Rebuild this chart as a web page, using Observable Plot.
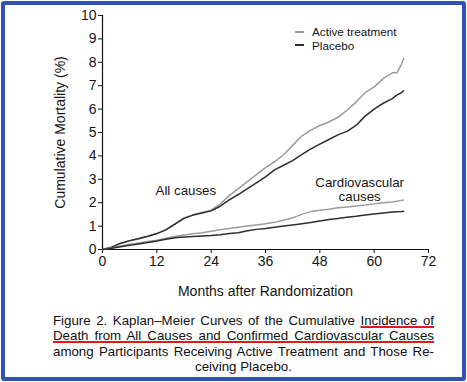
<!DOCTYPE html>
<html><head><meta charset="utf-8">
<script src="https://cdn.jsdelivr.net/npm/d3@7"></script>
<script src="https://cdn.jsdelivr.net/npm/@observablehq/plot@0.6"></script>
<style>
html,body{margin:0;padding:0;background:#fff;}
#wrap{position:relative;width:467px;height:382px;overflow:hidden;font-family:"Liberation Sans",Arial,sans-serif;color:#151515;}
#chart{position:absolute;left:0;top:0;}
#border{position:absolute;left:1px;top:1px;width:465px;height:380px;box-sizing:border-box;border:4px solid #3052b8;border-radius:3px;pointer-events:none;}
#legend{position:absolute;left:295px;top:25px;font-size:11.7px;line-height:13.5px;}
#legend .row{display:flex;align-items:center;white-space:nowrap;}
#legend .sw{display:inline-block;width:9px;margin-right:8px;}
#caption{position:absolute;left:53px;top:313px;width:381px;font-size:13.3px;line-height:15.4px;color:#111;}
#caption .j{text-align:justify;text-align-last:justify;white-space:nowrap;}
#caption .c{text-align:center;}
#caption u{text-decoration:underline;text-decoration-color:#e01a1a;text-decoration-thickness:2px;text-underline-offset:1px;}
</style>
</head><body>
<div id="wrap">
  <div id="chart"></div>
  <div id="legend"></div>
  <div id="caption">
    <div class="j">Figure 2. Kaplan–Meier Curves of the Cumulative <u>Incidence of</u></div>
    <div class="j"><u>Death from All Causes and Confirmed Cardiovascular Causes</u></div>
    <div class="j">among Participants Receiving Active Treatment and Those Re-</div>
    <div class="c">ceiving Placebo.</div>
  </div>
  <div id="border"></div>
</div>
<script>
const months = [0,2,4,6,8,10,12,14,16,18,20,22,24,26,28,30,32,34,36,38,40,42,44,46,48,50,52,54,56,58,60,62,64,65,66,66.5];
const allActive = [0,0.08,0.25,0.36,0.45,0.56,0.68,0.85,1.1,1.35,1.48,1.58,1.68,1.95,2.3,2.6,2.9,3.2,3.5,3.75,4.05,4.45,4.85,5.1,5.3,5.45,5.65,5.95,6.3,6.7,6.95,7.3,7.55,7.55,7.9,8.15];
const allPlacebo = [0,0.1,0.27,0.38,0.47,0.57,0.68,0.84,1.08,1.33,1.47,1.56,1.65,1.85,2.12,2.35,2.6,2.85,3.1,3.4,3.6,3.8,4.05,4.3,4.5,4.7,4.9,5.05,5.3,5.7,6.0,6.25,6.45,6.6,6.7,6.78];
const cvActive = [0,0.06,0.15,0.22,0.28,0.34,0.4,0.48,0.56,0.62,0.67,0.72,0.78,0.84,0.9,0.95,1.0,1.05,1.1,1.16,1.25,1.35,1.5,1.62,1.68,1.72,1.78,1.82,1.86,1.9,1.95,2.0,2.03,2.06,2.1,2.12];
const cvPlacebo = [0,0.05,0.12,0.18,0.24,0.3,0.36,0.44,0.5,0.53,0.56,0.58,0.6,0.63,0.68,0.72,0.8,0.86,0.9,0.95,1.0,1.05,1.1,1.15,1.22,1.28,1.32,1.38,1.42,1.47,1.52,1.56,1.6,1.61,1.62,1.63];
const groups = ["Active treatment", "Placebo"];
const colors = ["#9c9c9c", "#2e2e2e"];
const xTicks = [0,12,24,36,48,60,72];
const yTicks = [0,1,2,3,4,5,6,7,8,9,10];
const annotations = [
  {m: 18.4, v: 2.52, text: "All causes"},
  {m: 56.8, v: 2.56, text: "Cardiovascular\ncauses"}
];

const rows = [];
const seriesList = [
  ["all-active", groups[0], allActive],
  ["all-placebo", groups[1], allPlacebo],
  ["cv-active", groups[0], cvActive],
  ["cv-placebo", groups[1], cvPlacebo]
];
for (const [key, group, vals] of seriesList) {
  months.forEach((m, i) => rows.push({key, group, m, v: vals[i]}));
}

const chart = Plot.plot({
  width: 467, height: 300,
  marginLeft: 102, marginRight: 39, marginTop: 15, marginBottom: 51,
  style: {fontFamily: "'Liberation Sans', Arial, sans-serif", fontSize: "15px", color: "#151515", background: "transparent"},
  x: {domain: [0, 72]},
  y: {domain: [0, 10]},
  color: {domain: groups, range: colors},
  marks: [
    Plot.axisX({ticks: xTicks, tickSize: 4, tickPadding: 3, fontSize: 14, label: "Months after Randomization", labelAnchor: "center", labelOffset: 46, labelArrow: "none"}),
    Plot.axisY({ticks: yTicks, tickSize: 4, tickPadding: 2, fontSize: 14, label: "Cumulative Mortality (%)", labelAnchor: "center", labelOffset: 47, labelArrow: "none"}),
    Plot.ruleX([0], {stroke: "#111", strokeWidth: 1.2}),
    Plot.ruleY([0], {stroke: "#111", strokeWidth: 1.2}),
    Plot.line(rows, {x: "m", y: "v", z: "key", stroke: "group", strokeWidth: 1.5}),
    Plot.text(annotations, {x: "m", y: "v", text: "text", fontSize: 13.3, fill: "#151515", lineHeight: 1.05})
  ]
});
document.getElementById("chart").appendChild(chart);

const legend = document.getElementById("legend");
groups.forEach((g, i) => {
  const row = document.createElement("div");
  row.className = "row";
  const sw = document.createElement("span");
  sw.className = "sw";
  sw.style.borderTop = (i === 0 ? "2px" : "2.5px") + " solid " + colors[i];
  row.appendChild(sw);
  row.appendChild(document.createTextNode(g));
  legend.appendChild(row);
});
</script>
</body></html>
